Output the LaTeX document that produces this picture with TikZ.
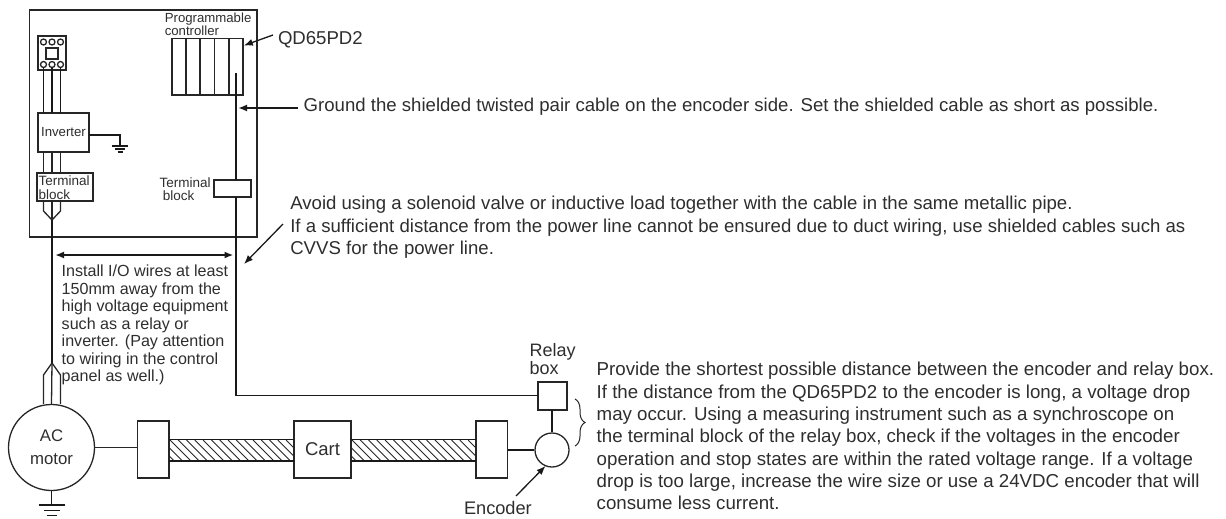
\documentclass[tikz,border=0pt]{standalone}
\usepackage{fontspec}
\setmainfont{Liberation Sans}
\usetikzlibrary{arrows.meta,calc,decorations.pathreplacing}
\tikzset{
  ink/.style={draw=black!85,line width=1.3pt},
  wire/.style={draw=black!90,line width=1.9pt},
  thin wire/.style={draw=black!85,line width=1.3pt},
  boxn/.style={ink,inner sep=0pt,outer sep=0pt,fill=white,align=center,text=black!82},
  cnt/.style={ink,circle,inner sep=0pt,outer sep=0pt,minimum size=6pt,fill=white},
  label/.style={anchor=north west,inner sep=0pt,outer sep=0pt,align=left,text=black!82},
  note/.style={label,font=\fontsize{18.6}{22.5}\selectfont},
  arr/.style={wire,-{Latex[length=9pt,width=7pt]}},
  arrs/.style={draw=black!90,line width=1.3pt,-{Latex[length=9pt,width=7pt]}},
}
\newcommand{\grnd}[5]{% coordinate, half widths of the three bars, gap
  \draw[wire,line width=1.6pt] ($(#1)+(-#2,0)$) -- ($(#1)+(#2,0)$);
  \draw[wire,line width=1.6pt] ($(#1)+(-#3,#5)$) -- ($(#1)+(#3,#5)$);
  \draw[wire,line width=1.6pt] ($(#1)+(-#4,2*#5)$) -- ($(#1)+(#4,2*#5)$);
}
\begin{document}
\begin{tikzpicture}[x=1pt,y=-1pt]
\useasboundingbox (0,0) rectangle (1226,519);
% panel
\node[ink,inner sep=0pt,minimum width=227.5pt,minimum height=227pt] (panel) at (143.25,123.5) {};
% breaker
\node[boxn,minimum width=28pt,minimum height=34pt] (brk) at (52,53) {};
\node[boxn,minimum width=12pt,minimum height=11pt] (brkin) at (52,53.5) {};
\node[cnt] (t1) at (43.5,42) {};
\node[cnt] (t2) at (52,42) {};
\node[cnt] (t3) at (60.5,42) {};
\node[cnt] (b1) at (43.5,64.5) {};
\node[cnt] (b2) at (52,64.5) {};
\node[cnt] (b3) at (60.5,64.5) {};
% inverter
\node[boxn,minimum width=51pt,minimum height=39pt,font=\fontsize{13.2}{15}\selectfont] (inv) at (63.5,132.5) {Inverter};
\draw[wire] (b1) -- (b1 |- inv.north);
\draw[wire] (b2) -- (b2 |- inv.north);
\draw[wire] (b3) -- (b3 |- inv.north);
% terminal block left
\node[boxn,minimum width=56pt,minimum height=28pt] (tbl) at (65,187) {};
\node[label,font=\fontsize{13.5}{14}\selectfont] (tbltxt) at (38.7,175.4) {Terminal\\block};
\draw[thin wire] (b1 |- inv.south) -- (b1 |- tbl.north);
\draw[thin wire] (b2 |- inv.south) -- (b2 |- tbl.north);
\draw[thin wire] (b3 |- inv.south) -- (b3 |- tbl.north);
\coordinate (vtip) at (52,220);
\draw[thin wire] (b1 |- tbl.south) -- (43.5,211) -- (vtip) -- (60.5,211) -- (b3 |- tbl.south);
\draw[thin wire] (b2 |- tbl.south) -- (vtip);
% inverter ground
\coordinate (g1) at (120,146);
\draw[wire] (inv.east |- 0,135) -| (g1);
\grnd{g1}{8.3}{5}{2.5}{3}
% motor
\node[ink,circle,inner sep=0pt,minimum size=86pt,align=center,text=black!82,font=\fontsize{16.8}{23}\selectfont] (motor) at (51.5,447.5) {AC\\motor};
\coordinate (utip) at (52,363);
\coordinate (ul) at (43.5,375);
\coordinate (ur) at (60.5,375);
\draw[wire,line width=1.6pt] (vtip) -- (utip);
\draw[thin wire] (motor.north -| ul) -- (ul) -- (utip) -- (ur) -- (motor.north -| ur);
\draw[thin wire] (utip) -- (motor.north);
\coordinate (g2) at (51.5,505);
\draw[wire] (motor.south) -- (g2);
\grnd{g2}{13}{8}{5}{5.3}
% mechanics
\node[boxn,minimum width=31.5pt,minimum height=57pt] (b1x) at (153.25,449.5) {};
\node[boxn,minimum width=57pt,minimum height=57pt,font=\fontsize{18.5}{22}\selectfont] (cart) at (322.5,449.5) {Cart};
\node[boxn,minimum width=31.5pt,minimum height=57pt] (b3x) at (491.75,449.5) {};
\draw[thin wire] (motor.east) -- (b1x.west |- motor.east);
\foreach \xa/\xb in {169/294,351/476}{
  \begin{scope}
    \clip (\xa,440) rectangle (\xb,460.5);
    \foreach \i in {0,...,17}{
      \draw[black!85,line width=0.9pt] ({\xa-24+\i*8.3},440) -- ++(22,22);
    }
  \end{scope}
  \draw[wire] (\xa,439.5) -- (\xb,439.5);
  \draw[wire] (\xa,461) -- (\xb,461);
}
% encoder / relay
\node[ink,circle,inner sep=0pt,minimum size=34pt] (enc) at (552,450) {};
\node[boxn,minimum width=29pt,minimum height=28pt] (relay) at (552.5,396) {};
\draw[wire] (b3x.east |- enc.west) -- (enc.west);
\draw[wire] (relay.south -| enc.north) -- (enc.north);
\node[label,font=\fontsize{18}{17.5}\selectfont] (relaytxt) at (529.5,343.5) {Relay\\box};
\node[label,font=\fontsize{18.2}{22}\selectfont] (enctxt) at (464,501.7) {Encoder};
\coordinate (encarrow) at (516,496);
\draw[arrs] (encarrow) -- (545.5,466);
\draw[ink,line width=1pt,decorate,decoration={brace,amplitude=10pt,aspect=0.5}] (575,399) -- (575,446);
% controller
\node[ink,inner sep=0pt,minimum width=71pt,minimum height=56.5pt,line width=1.7pt] (plc) at (207.5,66.75) {};
\foreach \x in {186,200,214.5,229}{ \draw[ink,line width=1.7pt] (\x,38.5) -- (\x,95); }
\node[label,font=\fontsize{13.2}{13.3}\selectfont] (plctxt) at (164.8,13) {Programmable\\controller};
% right cable
\coordinate (plcend) at (236,73);
\node[boxn,minimum width=37pt,minimum height=17pt] (tbr) at (232.5,188.5) {};
\node[label,font=\fontsize{13.5}{13.7}\selectfont] (tbrtxt) at (159.5,177.4) {Terminal\\\hspace*{3.3pt}block};
\coordinate (cc) at (236,395.5);
\draw[wire] (plcend) -- (plcend |- tbr.north);
\draw[wire] (plcend |- tbr.south) -- (cc) -- (relay.west |- cc);
% labels
\node[note] (qd) at (278,31.4) {QD65PD2};
\coordinate (qda) at (273,35);
\draw[arrs] (qda) -- (plc.east |- 0,45.5);
\node[note] (n1) at (303.7,98.4) {Ground the shielded twisted pair cable on the encoder side. Set the shielded cable as short as possible.};
\coordinate (n1a) at (297.7,108);
\coordinate (n1b) at (238,108);
\draw[arr] (n1a) -- (n1b);
\node[note] (n2) at (290.3,196.4) {Avoid using a solenoid valve or inductive load together with the cable in the same metallic pipe.\\If a sufficient distance from the power line cannot be ensured due to duct wiring, use shielded cables such as\\CVVS for the power line.};
\coordinate (n2a) at (283,224);
\coordinate (n2b) at (244,264);
\draw[arrs] (n2a) -- (n2b);
\coordinate (da) at (55,255);
\coordinate (db) at (233.5,255);
\draw[wire,{Latex[length=9pt,width=7pt]}-{Latex[length=9pt,width=7pt]}] (da) -- (db);
\node[label,font=\fontsize{16.1}{17.5}\selectfont] (n3) at (61.7,265) {Install I/O wires at least\\150mm away from the\\high voltage equipment\\such as a relay or\\inverter. (Pay attention\\to wiring in the control\\panel as well.)};
\node[label,font=\fontsize{18.7}{22.3}\selectfont] (n4) at (596.7,362.4) {Provide the shortest possible distance between the encoder and relay box.\\If the distance from the QD65PD2 to the encoder is long, a voltage drop\\may occur. Using a measuring instrument such as a synchroscope on\\the terminal block of the relay box, check if the voltages in the encoder\\operation and stop states are within the rated voltage range. If a voltage\\drop is too large, increase the wire size or use a 24VDC encoder that will\\consume less current.};
\end{tikzpicture}
\end{document}
